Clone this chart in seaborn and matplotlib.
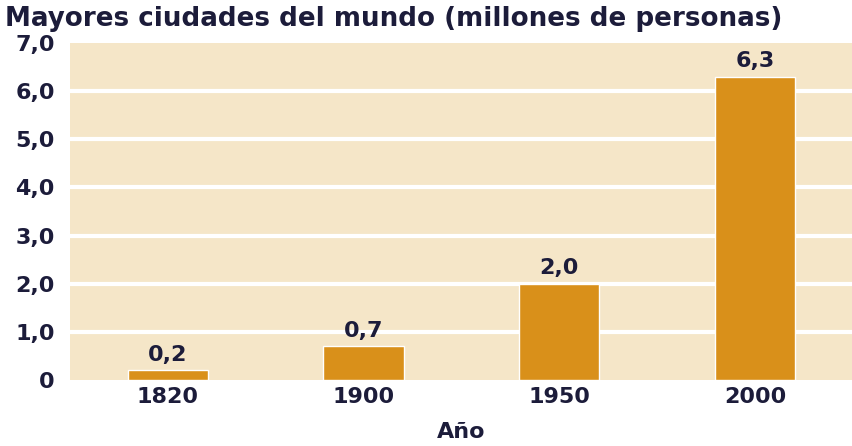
import matplotlib
matplotlib.use("Agg")
import matplotlib.pyplot as plt
import seaborn as sns
import pandas as pd

# Datos
years = ["1820", "1900", "1950", "2000"]
population = [0.2, 0.7, 2.0, 6.3]
value_labels = ["0,2", "0,7", "2,0", "6,3"]
y_ticks = [0, 1, 2, 3, 4, 5, 6, 7]
y_tick_labels = ["0", "1,0", "2,0", "3,0", "4,0", "5,0", "6,0", "7,0"]

BAR = "#D9901A"
PANEL = "#F5E6C8"
TEXT = "#1C1C3A"

sns.set_theme(style="white")
plt.rcParams["font.family"] = ["DejaVu Sans"]

df = pd.DataFrame({"Año": years, "Poblacion": population})

fig = plt.figure(figsize=(8.53, 4.46), dpi=100)
ax = fig.add_axes([0.082, 0.148, 0.918, 0.7556])
ax.set_facecolor(PANEL)

sns.barplot(data=df, x="Año", y="Poblacion", color=BAR, width=0.41,
            saturation=1, ax=ax, zorder=3)

ax.set_ylim(0, 7)
ax.set_xlim(-0.5, 3.5)
for t in y_ticks[1:-1]:
    ax.axhline(t, color="white", linewidth=3, zorder=1)

ax.set_yticks(y_ticks)
ax.set_yticklabels(y_tick_labels)
ax.tick_params(axis="both", length=0, labelsize=16, colors=TEXT)
ax.tick_params(axis="y", pad=11)
ax.tick_params(axis="x", pad=5)
for lbl in ax.get_xticklabels() + ax.get_yticklabels():
    lbl.set_fontweight("bold")

for i, (v, s) in enumerate(zip(population, value_labels)):
    ax.annotate(s, (i, v), xytext=(0, 4), textcoords="offset points",
                ha="center", va="bottom", fontsize=16, fontweight="bold",
                color=TEXT)

ax.set_ylabel("")
ax.set_xlabel("Año", fontsize=16, fontweight="bold", color=TEXT, labelpad=11)
sns.despine(ax=ax, left=True, bottom=True)

fig.text(0.006, 0.958, "Mayores ciudades del mundo (millones de personas)",
         fontsize=18.8, fontweight="bold", color=TEXT, ha="left", va="center")

fig.savefig("out.png", dpi=100)
